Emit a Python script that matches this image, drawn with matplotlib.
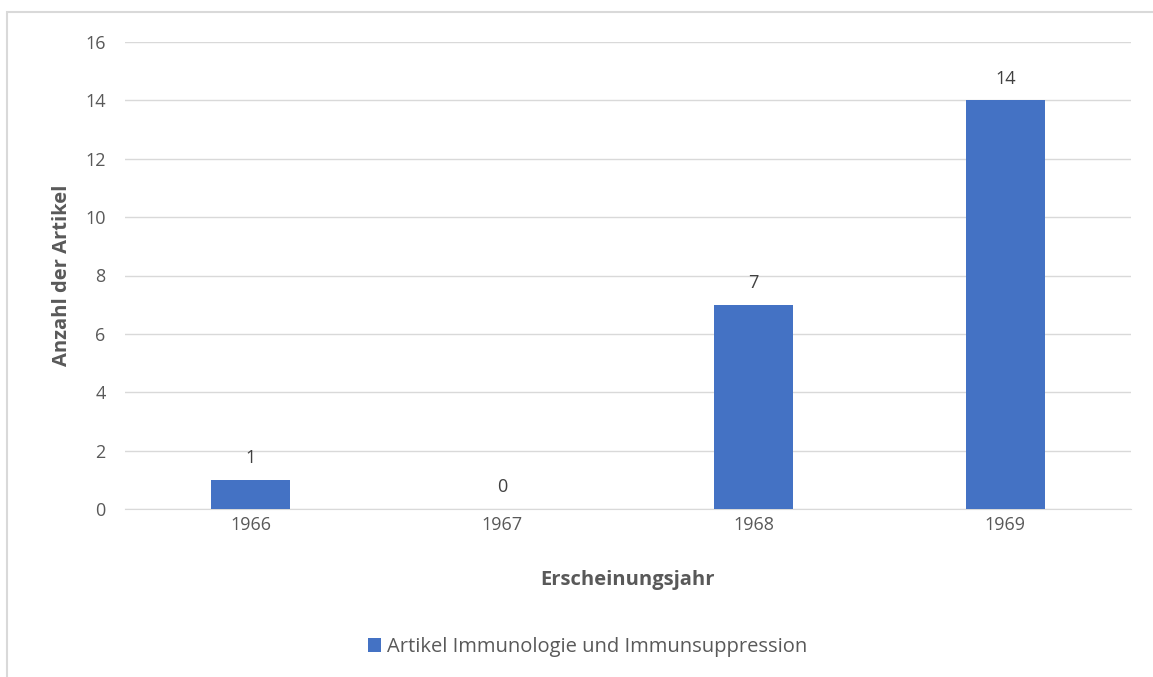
import matplotlib.pyplot as plt
from matplotlib.patches import Rectangle

# DATA
years = ['1966', '1967', '1968', '1969']
counts = [1, 0, 7, 14]
series_name = 'Artikel Immunologie und Immunsuppression'

plt.rcParams['font.family'] = ['Open Sans', 'DejaVu Sans']

fig = plt.figure(figsize=(11.53, 6.77), dpi=100)
ax = fig.add_axes([125 / 1153, 1 - 509 / 677, (1131 - 125) / 1153, (509 - 42) / 677])

bars = ax.bar(range(len(years)), counts, width=0.315, color='#4472C4', zorder=3, label=series_name)

for i, v in enumerate(counts):
    ax.annotate(f'{v}', xy=(i, v), xytext=(0, 9), textcoords='offset points',
                ha='center', va='bottom', fontsize=13, color='#404040')

ax.set_xlim(-0.5, len(years) - 0.5)
ax.set_ylim(0, 16)
ax.set_yticks(range(0, 17, 2))
ax.set_xticks(range(len(years)))
ax.set_xticklabels(years)

ax.grid(axis='y', color='#d9d9d9', lw=1, zorder=0)
for s in ['top', 'right', 'left']:
    ax.spines[s].set_visible(False)
ax.spines['bottom'].set_color('#d9d9d9')
ax.tick_params(length=0, labelsize=13, labelcolor='#595959')
ax.tick_params(axis='x', pad=5)
ax.tick_params(axis='y', pad=14)

ax.set_xlabel('Erscheinungsjahr', fontsize=14.5, fontweight='bold', color='#595959', labelpad=26)
ax.set_ylabel('Anzahl der Artikel', fontsize=14.5, fontweight='bold', color='#595959', labelpad=9)

leg = fig.legend(loc='center', bbox_to_anchor=(588 / 1153, 1 - 647 / 677), frameon=False,
                 fontsize=14.5, handlelength=0.65, handleheight=0.65, handletextpad=0.3)
for t in leg.get_texts():
    t.set_color('#595959')

# Chart border
fig.patches.append(Rectangle((7 / 1153, -0.05), 1.1, 1 - 12 / 677 + 0.05, transform=fig.transFigure,
                             fill=False, edgecolor='#d9d9d9', lw=1.5))

plt.savefig('out.png', dpi=100)
